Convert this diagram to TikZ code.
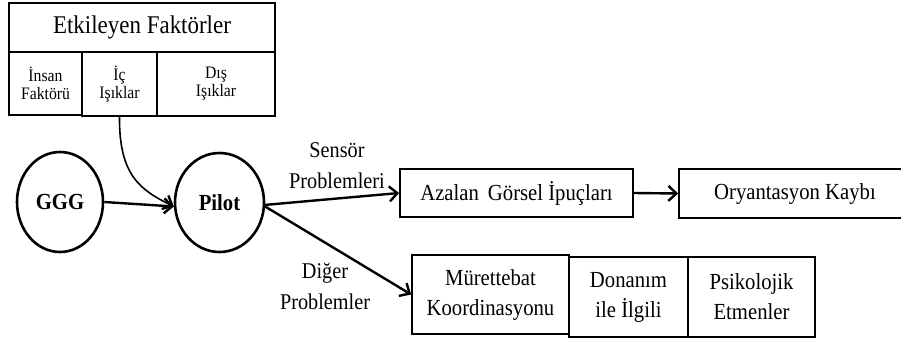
\documentclass[tikz,border=0pt]{standalone}
\usepackage{fontspec}
\setmainfont{Liberation Serif}[FakeStretch=0.9]
\usetikzlibrary{arrows.meta,shapes.geometric}
\tikzset{
  box/.style={draw, line width=1.8pt, inner sep=0pt, align=center,
    font=\fontsize{23}{30}\selectfont},
  smallbox/.style={draw, line width=1.8pt, inner sep=0pt, align=center,
    font=\fontsize{17.5}{18}\selectfont},
  circ/.style={draw, ellipse, line width=2.6pt, inner sep=0pt,
    font=\fontsize{23}{28}\selectfont\bfseries},
  lbl/.style={align=center, inner sep=0pt, font=\fontsize{22.5}{31}\selectfont},
  arr/.style={line width=2.4pt, -{Straight Barb[length=8pt,width=15pt]}},
  thinarr/.style={line width=1.6pt, -{Straight Barb[length=8pt,width=15pt,line width=2.4pt]}}
}
\begin{document}
\begin{tikzpicture}[x=1pt,y=-1pt]
\clip (0,0) rectangle (901,340);
\fill[white] (0,0) rectangle (901,340);
% top table
\node[box, minimum width=266pt, minimum height=49pt, font=\fontsize{25.5}{30}\selectfont] (title) at (142,27.5) {Etkileyen Faktörler};
\node[smallbox, minimum width=73pt, minimum height=63pt] (insan) at (45.5,83.5) {İnsan\\Faktörü};
\node[smallbox, minimum width=75pt, minimum height=64pt] (ic) at (119.5,84) {İç\\Işıklar};
\node[smallbox, minimum width=118pt, minimum height=64pt] (dis) at (216,84) {Dış\\Işıklar};
% circles
\node[circ, minimum width=86pt, minimum height=100pt] (ggg) at (60,202) {GGG};
\node[circ, minimum width=89pt, minimum height=99pt] (pilot) at (219.5,202.5) {Pilot};
% boxes
\node[box, minimum width=233pt, minimum height=48pt] (azalan) at (516.5,193) {Azalan\ \,Görsel İpuçları};
\node[box, minimum width=232pt, minimum height=49pt] (oryan) at (795,193.5) {Oryantasyon Kaybı};
\node[box, minimum width=157pt, minimum height=79pt] (muret) at (490.5,294.5) {Mürettebat\\Koordinasyonu};
\node[box, minimum width=119pt, minimum height=80pt] (donan) at (628.5,297) {Donanım\\ile İlgili};
\node[box, minimum width=127pt, minimum height=80pt] (psiko) at (751.5,297) {Psikolojik\\Etmenler};
% labels
\node[lbl] (sensor) at (337,166) {Sensör\\Problemleri};
\node[lbl] (diger) at (325,286) {Diğer\\Problemler};
% connectors
\draw[arr] (ggg.east) -- (pilot.185);
\draw[thinarr] (ic.south) .. controls (119,175) and (140,190) .. (pilot.185);
\draw[arr] (pilot.-3) -- (azalan.west);
\draw[arr] (pilot.-5) -- (muret.west);
\draw[arr] (azalan.east) -- (oryan.west);
\end{tikzpicture}
\end{document}
